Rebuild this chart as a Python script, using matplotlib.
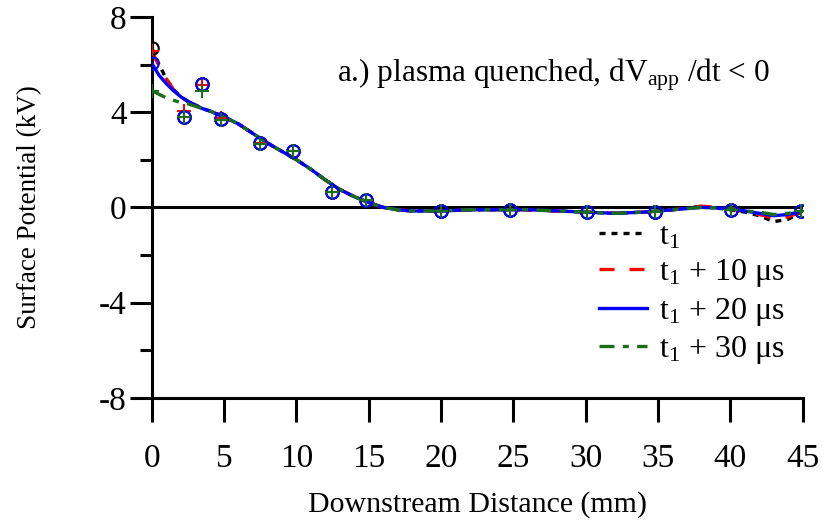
import matplotlib
matplotlib.use("Agg")
import matplotlib.pyplot as plt
from matplotlib.ticker import MultipleLocator

plt.rcParams['font.family'] = ['Liberation Serif', 'DejaVu Serif']
plt.rcParams['mathtext.fontset'] = 'custom'
plt.rcParams['mathtext.rm'] = 'Liberation Serif'
plt.rcParams['mathtext.it'] = 'Liberation Serif'

# measured points
x_pts = [0, 2.2, 3.5, 4.75, 7.5, 9.75, 12.45, 14.8, 20.0, 24.75, 30.1, 34.8, 40.05, 44.85]
t1_pts = [6.7, 3.8, 5.2, 3.7, 2.7, 2.37, 0.65, 0.3, -0.15, -0.13, -0.2, -0.2, -0.13, -0.14]
t10_pts = [6.55, 4.05, 5.15, 3.75, 2.7, 2.37, 0.65, 0.3, -0.15, -0.13, -0.2, -0.2, -0.13, -0.14]
t20_pts = [6.05, 3.8, 5.2, 3.7, 2.7, 2.37, 0.65, 0.3, -0.15, -0.13, -0.2, -0.2, -0.13, -0.14]
t30_pts = [4.9, 3.8, 4.9, 3.65, 2.65, 2.35, 0.65, 0.3, -0.15, -0.13, -0.2, -0.2, -0.13, -0.14]

# fitted curves
x_line = [0, 0.5, 1, 1.5, 2, 2.5, 3, 3.5, 4, 5, 6, 7, 8, 9, 10, 11, 12, 13, 14, 15,
          16, 17, 18, 20, 22, 24, 26, 28, 30, 32, 34, 36, 38, 40, 41, 42, 43, 44, 45]
t1_line = [6.7, 6.0, 5.4, 4.95, 4.65, 4.45, 4.3, 4.15, 4.05, 3.8, 3.5, 3.1, 2.7, 2.35, 2.0,
           1.6, 1.15, 0.75, 0.45, 0.2, 0.0, -0.1, -0.15, -0.15, -0.1, -0.1, -0.1, -0.15,
           -0.2, -0.25, -0.2, -0.1, 0.05, -0.1, -0.2, -0.35, -0.6, -0.5, -0.15]
t10_line = [6.55, 5.95, 5.4, 4.95, 4.65, 4.45, 4.3, 4.15, 4.05, 3.8, 3.5, 3.1, 2.7, 2.35, 2.0,
            1.6, 1.15, 0.75, 0.45, 0.2, 0.0, -0.1, -0.15, -0.15, -0.1, -0.1, -0.1, -0.15,
            -0.2, -0.25, -0.2, -0.1, 0.05, -0.05, -0.2, -0.3, -0.45, -0.4, -0.15]
t20_line = [6.05, 5.55, 5.2, 4.9, 4.65, 4.45, 4.3, 4.15, 4.05, 3.8, 3.5, 3.1, 2.7, 2.35, 2.0,
            1.6, 1.15, 0.75, 0.45, 0.2, 0.0, -0.1, -0.15, -0.15, -0.1, -0.1, -0.1, -0.15,
            -0.2, -0.25, -0.2, -0.1, 0.0, -0.05, -0.15, -0.25, -0.35, -0.3, -0.15]
t30_line = [4.9, 4.75, 4.6, 4.5, 4.4, 4.35, 4.25, 4.15, 4.05, 3.8, 3.5, 3.1, 2.7, 2.35, 2.0,
            1.6, 1.15, 0.75, 0.45, 0.2, 0.0, -0.1, -0.15, -0.15, -0.1, -0.1, -0.1, -0.15,
            -0.2, -0.25, -0.2, -0.1, 0.0, -0.05, -0.15, -0.2, -0.3, -0.25, -0.15]

labels = [r'$\mathregular{t_1}$', r'$\mathregular{t_1}$ + 10 μs',
          r'$\mathregular{t_1}$ + 20 μs', r'$\mathregular{t_1}$ + 30 μs']
x_ticks = [0, 5, 10, 15, 20, 25, 30, 35, 40, 45]
y_ticks = [-8, -4, 0, 4, 8]
y_tick_labels = ['-8', '-4', '0', '4', '8']

fig = plt.figure(figsize=(8.25, 5.29), dpi=100)
ax = fig.add_axes([0.184, 0.248, 0.789, 0.72])

ax.axhline(0, color='black', lw=2.2, zorder=1)

lw = 2.4
ax.plot(x_line, t1_line, color='black', lw=lw, linestyle=(0, (1.8, 1.8)), label=labels[0], zorder=3)
ax.plot(x_line, t10_line, color='red', lw=lw, linestyle=(0, (4.5, 4.5)), label=labels[1], zorder=3)
ax.plot(x_line, t20_line, color='blue', lw=lw, linestyle='-', label=labels[2], zorder=3)
ax.plot(x_line, t30_line, color='#1a6e1a', lw=lw, linestyle=(0, (4.5, 2.5, 1.8, 2.5)), label=labels[3], zorder=3)

ms = 9
mew = 1.5
ax.plot(x_pts, t1_pts, 'o', mfc='none', mec='black', ms=ms, mew=mew, zorder=4)
ax.plot(x_pts, t10_pts, '+', color='red', ms=ms + 1, mew=mew, zorder=4)
ax.plot(x_pts, t20_pts, 'o', mfc='none', mec='blue', ms=ms, mew=mew, zorder=5)
ax.plot(x_pts, t30_pts, '+', color='#1a6e1a', ms=ms + 1, mew=mew, zorder=6)

ax.set_xlim(0, 45)
ax.set_ylim(-8, 8)
ax.set_xticks(x_ticks)
ax.set_yticks(y_ticks)
ax.set_yticklabels(y_tick_labels)
ax.yaxis.set_minor_locator(MultipleLocator(2))

for s in ['top', 'right']:
    ax.spines[s].set_visible(False)
for s in ['left', 'bottom']:
    ax.spines[s].set_linewidth(2.2)
ax.tick_params(axis='both', which='major', direction='out', width=2.2, labelsize=24)
ax.tick_params(axis='y', which='major', length=16, pad=2)
ax.tick_params(axis='y', which='minor', length=9, width=2.2)
ax.tick_params(axis='x', which='major', length=17, pad=16)

ax.set_xlabel('Downstream Distance (mm)', fontsize=21.5)
ax.set_ylabel('Surface Potential (kV)', fontsize=19.5)
ax.yaxis.set_label_coords(-0.169, 0.5)
ax.xaxis.set_label_coords(0.5, -0.245)

ax.text(0.949, 0.848, r'a.) plasma quenched, dV$\mathregular{_{app}}$ /dt < 0',
        transform=ax.transAxes, fontsize=22.5, ha='right', va='center')

leg = ax.legend(loc='upper left', bbox_to_anchor=(0.668, 0.496), frameon=False, fontsize=23,
                handlelength=1.5, handletextpad=0.375, labelspacing=0.2, borderaxespad=0)

fig.savefig('out.png', dpi=100)
